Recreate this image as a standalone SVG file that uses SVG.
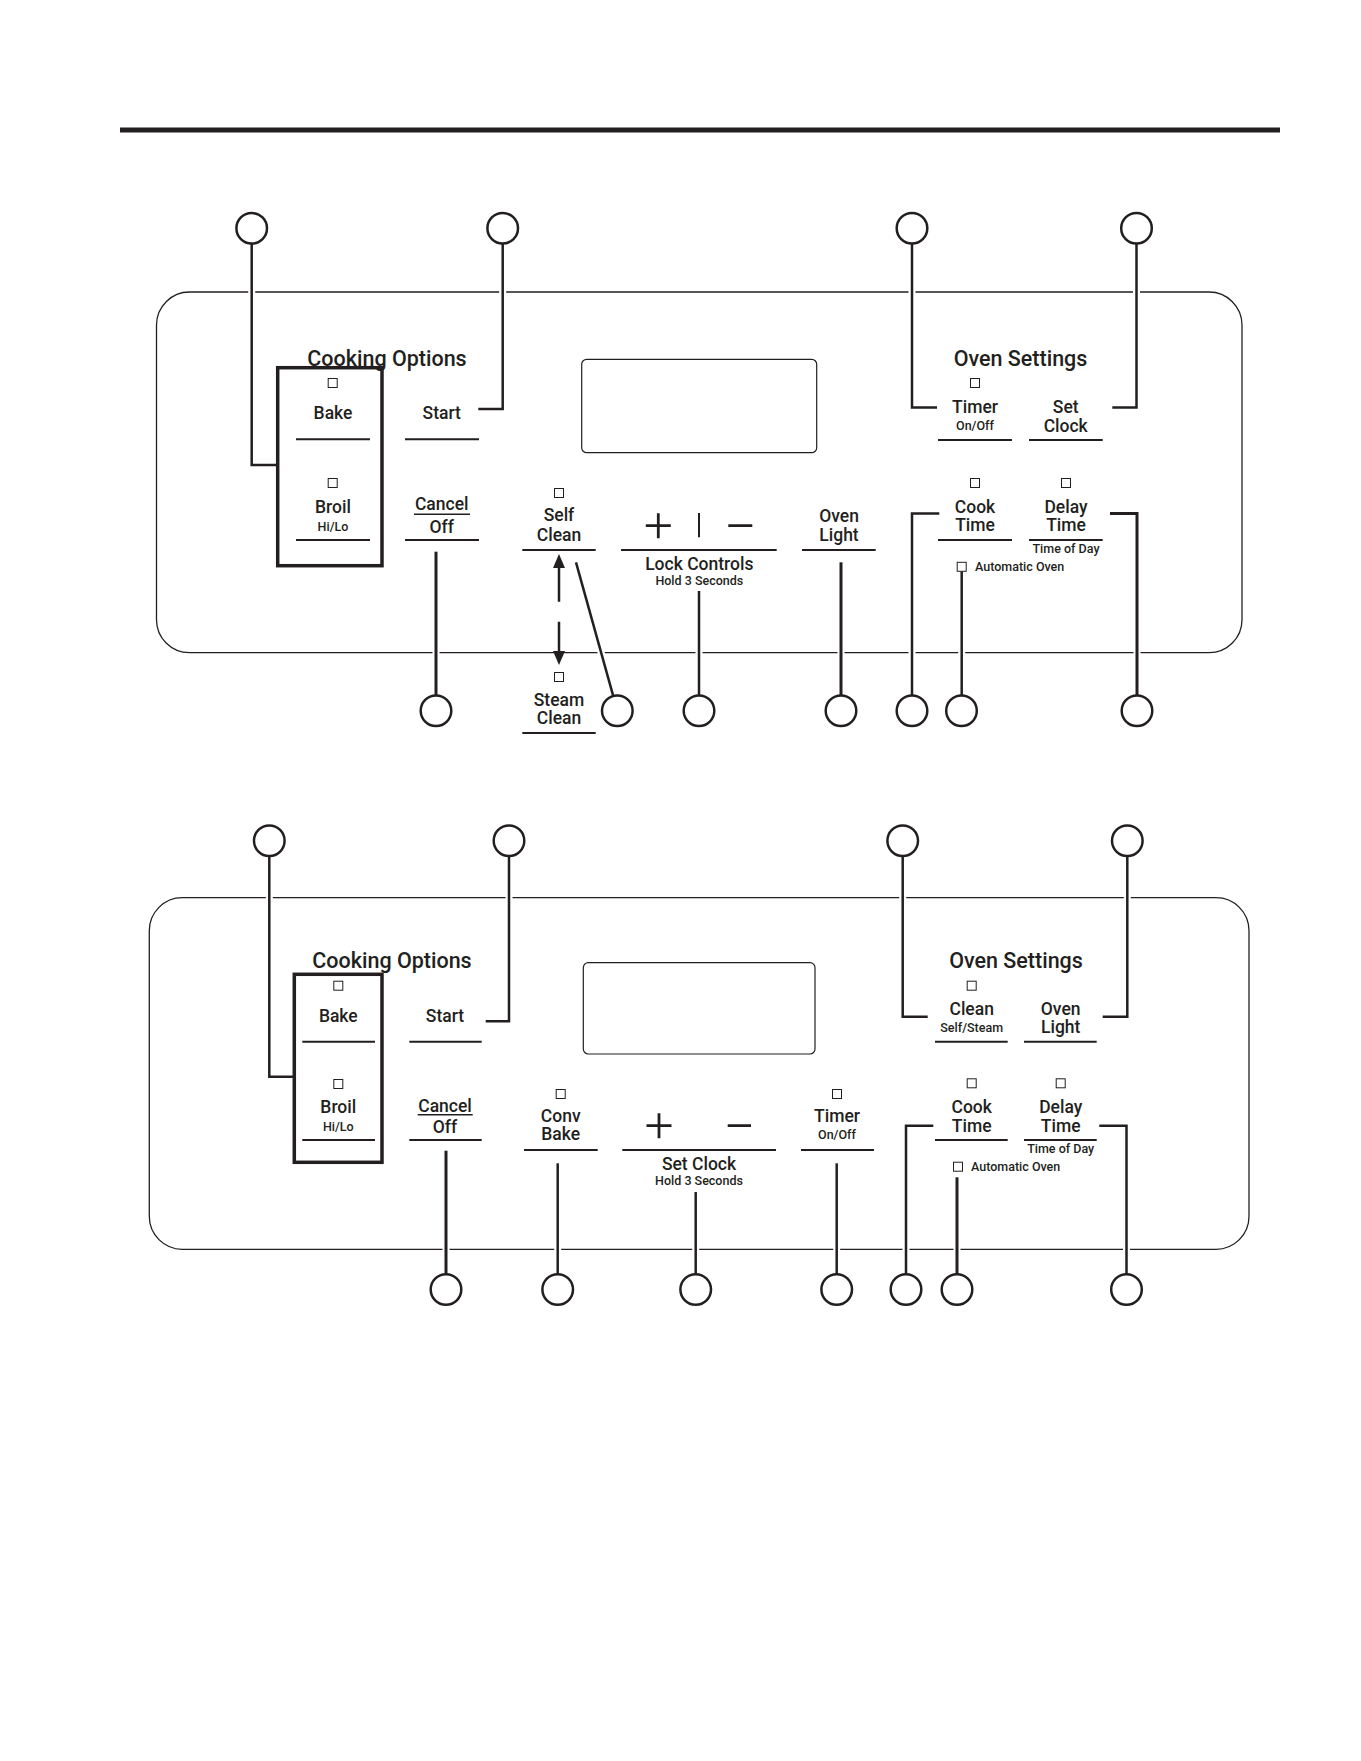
<svg xmlns="http://www.w3.org/2000/svg" width="1361" height="1761" viewBox="0 0 1361 1761">
<defs>
<style>
.t{font-family:Roboto,"Liberation Sans",sans-serif;font-weight:500;font-size:17.5px;text-anchor:middle;fill:#231f20}
.sm{font-size:12.5px}
.hd{font-size:21.5px}
.st{text-anchor:start}
.ul{stroke:#231f20;stroke-width:2;fill:none}
.ul1{stroke:#231f20;stroke-width:1.5;fill:none}
.led{fill:none;stroke:#231f20;stroke-width:1}
.panel{fill:none;stroke:#231f20;stroke-width:1.3}
.box{fill:none;stroke:#231f20;stroke-width:3.5}
.disp{fill:none;stroke:#231f20;stroke-width:1.2}
.halo{fill:none;stroke:#fff;stroke-width:7}
.conn{fill:none;stroke:#231f20;stroke-width:2.5}
.thick{stroke-width:3}
.co{fill:#fff;stroke:#231f20;stroke-width:2.5}
.sym{stroke:#231f20;stroke-width:2.8;fill:none}
.ah{fill:#231f20}
</style>
</defs>
<rect width="1361" height="1761" fill="#fff"/>
<line x1="120" y1="130" x2="1280" y2="130" stroke="#231f20" stroke-width="5"/>

<!-- ===== Panel 1 ===== -->
<g id="panel1">
<rect class="panel" x="156.5" y="292" width="1085.5" height="360.7" rx="33"/>
<rect class="disp" x="581.7" y="359.3" width="235" height="93.4" rx="5"/>
</g>

<g id="connectors1">
<path class="halo" d="M251.7 228 V465 H277.7"/>
<path class="conn" d="M251.7 228 V465 H277.7"/>
<path class="halo" d="M502.7 228 V409 H478.3"/>
<path class="conn" d="M502.7 228 V409 H478.3"/>
<path class="halo" d="M912 228 V407.6 H937"/>
<path class="conn" d="M912 228 V407.6 H937"/>
<path class="halo" d="M1136.5 228 V407.6 H1112.3"/>
<path class="conn" d="M1136.5 228 V407.6 H1112.3"/>
<path class="halo" d="M436 551.7 V710.7"/>
<path class="conn thick" d="M436 551.7 V710.7"/>
<path class="halo" d="M576 562.3 L617.3 710.7"/>
<path class="conn" d="M576 562.3 L617.3 710.7"/>
<path class="halo" d="M699 591 V710.7"/>
<path class="conn" d="M699 591 V710.7"/>
<path class="halo" d="M841 562.3 V710.7"/>
<path class="conn thick" d="M841 562.3 V710.7"/>
<path class="halo" d="M939.3 513.6 H912 V710.7"/>
<path class="conn" d="M939.3 513.6 H912 V710.7"/>
<path class="halo" d="M961.7 571.5 V710.7"/>
<path class="conn" d="M961.7 571.5 V710.7"/>
<path class="halo" d="M1110 513.6 H1137 V710.7"/>
<path class="conn thick" d="M1110 513.6 H1137 V710.7"/>
<path class="halo" d="M559 556 V601.7 M559 621.7 V663"/>
<path class="conn" d="M559 566 V601.7 M559 621.7 V653"/>
<polygon class="ah" points="553,568 559,554 565,568"/>
<polygon class="ah" points="553,651 559,665 565,651"/>
</g>

<g id="callouts1">
<circle class="co" cx="251.7" cy="228.3" r="15.3"/>
<circle class="co" cx="502.7" cy="228.3" r="15.3"/>
<circle class="co" cx="912" cy="228.3" r="15.3"/>
<circle class="co" cx="1136.5" cy="228.3" r="15.3"/>
<circle class="co" cx="436" cy="710.7" r="15.3"/>
<circle class="co" cx="617.3" cy="710.7" r="15.3"/>
<circle class="co" cx="699" cy="710.7" r="15.3"/>
<circle class="co" cx="841" cy="710.7" r="15.3"/>
<circle class="co" cx="912" cy="710.7" r="15.3"/>
<circle class="co" cx="961.5" cy="710.7" r="15.3"/>
<circle class="co" cx="1137" cy="710.7" r="15.3"/>
</g>

<g id="cooking-options-1">
<text class="t hd" x="387" y="366">Cooking Options</text>
<rect class="box" x="277.7" y="367.7" width="104.3" height="198"/>
</g>
<g id="bake1">
<rect class="led" x="328.2" y="378.5" width="9" height="9"/>
<text class="t" x="333" y="419">Bake</text>
<line class="ul" x1="296" y1="439.3" x2="370" y2="439.3"/>
</g>
<g id="start1">
<text class="t" x="441.7" y="419">Start</text>
<line class="ul" x1="405" y1="439.3" x2="479" y2="439.3"/>
</g>
<g id="broil1">
<rect class="led" x="328.2" y="478.5" width="9" height="9"/>
<text class="t" x="333" y="513.3">Broil</text>
<text class="t sm" x="333" y="530.7">Hi/Lo</text>
<line class="ul" x1="296" y1="540" x2="370" y2="540"/>
</g>
<g id="cancel1">
<text class="t" x="441.7" y="510">Cancel</text>
<line class="ul1" x1="414" y1="514.3" x2="470" y2="514.3"/>
<text class="t" x="441.7" y="532.7">Off</text>
<line class="ul" x1="405" y1="540" x2="479" y2="540"/>
</g>
<g id="selfclean1">
<rect class="led" x="554.5" y="488.5" width="9" height="9"/>
<text class="t" x="559" y="520.7">Self</text>
<text class="t" x="559" y="540.7">Clean</text>
<line class="ul" x1="522.3" y1="550" x2="595.7" y2="550"/>
</g>
<g id="steamclean1">
<rect class="led" x="554.5" y="672.5" width="9" height="9"/>
<text class="t" x="559" y="705.7">Steam</text>
<text class="t" x="559" y="724">Clean</text>
<line class="ul" x1="522.3" y1="733" x2="595.7" y2="733"/>
</g>
<g id="lock1">
<path class="sym" d="M645.8 525.7 H670.8 M658.3 513.2 V538.2 M728.3 525.7 H752.3"/>
<line stroke="#231f20" stroke-width="2" x1="699" y1="513" x2="699" y2="537.3"/>
<line class="ul" x1="621" y1="550" x2="776.7" y2="550"/>
<text class="t" x="699.3" y="569.5">Lock Controls</text>
<text class="t sm" x="699.3" y="584.5">Hold 3 Seconds</text>
</g>
<g id="ovenlight1">
<text class="t" x="839" y="521.7">Oven</text>
<text class="t" x="839" y="540.7">Light</text>
<line class="ul" x1="802" y1="550" x2="875.7" y2="550"/>
</g>
<g id="oven-settings-1">
<text class="t hd" x="1020.5" y="366">Oven Settings</text>
</g>
<g id="timer1">
<rect class="led" x="970.5" y="378.5" width="9" height="9"/>
<text class="t" x="975" y="413.2">Timer</text>
<text class="t sm" x="975" y="430.4">On/Off</text>
<line class="ul" x1="938" y1="440" x2="1012" y2="440"/>
</g>
<g id="setclock1">
<text class="t" x="1065.7" y="413">Set</text>
<text class="t" x="1065.7" y="432">Clock</text>
<line class="ul" x1="1029" y1="440" x2="1102.7" y2="440"/>
</g>
<g id="cooktime1">
<rect class="led" x="970.5" y="478.5" width="9" height="9"/>
<text class="t" x="975" y="513.2">Cook</text>
<text class="t" x="975" y="531.4">Time</text>
<line class="ul" x1="938" y1="540" x2="1012" y2="540"/>
</g>
<g id="delaytime1">
<rect class="led" x="1061.5" y="478.5" width="9" height="9"/>
<text class="t" x="1066" y="513.2">Delay</text>
<text class="t" x="1066" y="531.4">Time</text>
<line class="ul" x1="1029" y1="540" x2="1102.7" y2="540"/>
<text class="t sm" x="1066" y="552.9">Time of Day</text>
</g>
<g id="autooven1">
<rect class="led" x="957.2" y="562.3" width="9" height="9" stroke-width="1.5"/>
<text class="t sm st" x="975" y="571.4">Automatic Oven</text>
</g>

<!-- ===== Panel 2 ===== -->
<g id="panel2">
<rect class="panel" x="149.3" y="897.7" width="1099.7" height="351.6" rx="33"/>
<rect class="disp" x="583.3" y="962.7" width="231.7" height="91.3" rx="5"/>
</g>

<g id="connectors2">
<path class="halo" d="M269.3 840.7 V1076.7 H294.3"/>
<path class="conn" d="M269.3 840.7 V1076.7 H294.3"/>
<path class="halo" d="M509 840.7 V1021.3 H485.7"/>
<path class="conn" d="M509 840.7 V1021.3 H485.7"/>
<path class="halo" d="M902.7 840.7 V1016.7 H927.7"/>
<path class="conn" d="M902.7 840.7 V1016.7 H927.7"/>
<path class="halo" d="M1127.3 840.7 V1016.7 H1102.7"/>
<path class="conn" d="M1127.3 840.7 V1016.7 H1102.7"/>
<path class="halo" d="M446 1150.7 V1289.5"/>
<path class="conn thick" d="M446 1150.7 V1289.5"/>
<path class="halo" d="M557.7 1163.3 V1289.5"/>
<path class="conn" d="M557.7 1163.3 V1289.5"/>
<path class="halo" d="M695.7 1192 V1289.5"/>
<path class="conn" d="M695.7 1192 V1289.5"/>
<path class="halo" d="M836.7 1163.3 V1289.5"/>
<path class="conn" d="M836.7 1163.3 V1289.5"/>
<path class="halo" d="M933.3 1125.7 H906 V1289.5"/>
<path class="conn" d="M933.3 1125.7 H906 V1289.5"/>
<path class="halo" d="M957 1177.3 V1289.5"/>
<path class="conn thick" d="M957 1177.3 V1289.5"/>
<path class="halo" d="M1099.3 1125.7 H1126.5 V1289.5"/>
<path class="conn" d="M1099.3 1125.7 H1126.5 V1289.5"/>
</g>

<g id="callouts2">
<circle class="co" cx="269.3" cy="840.7" r="15.3"/>
<circle class="co" cx="509" cy="840.7" r="15.3"/>
<circle class="co" cx="902.7" cy="840.7" r="15.3"/>
<circle class="co" cx="1127.3" cy="840.7" r="15.3"/>
<circle class="co" cx="446" cy="1289.5" r="15.3"/>
<circle class="co" cx="557.7" cy="1289.5" r="15.3"/>
<circle class="co" cx="695.7" cy="1289.5" r="15.3"/>
<circle class="co" cx="836.7" cy="1289.5" r="15.3"/>
<circle class="co" cx="906" cy="1289.5" r="15.3"/>
<circle class="co" cx="957" cy="1289.5" r="15.3"/>
<circle class="co" cx="1126.5" cy="1289.5" r="15.3"/>
</g>

<g id="cooking-options-2">
<text class="t hd" x="392" y="968.3">Cooking Options</text>
<rect class="box" x="294.3" y="974.3" width="87.7" height="188"/>
</g>
<g id="bake2">
<rect class="led" x="333.8" y="981.2" width="9" height="9"/>
<text class="t" x="338.3" y="1021.7">Bake</text>
<line class="ul" x1="302.3" y1="1041.7" x2="375" y2="1041.7"/>
</g>
<g id="start2">
<text class="t" x="445" y="1021.7">Start</text>
<line class="ul" x1="409.3" y1="1041.7" x2="481.7" y2="1041.7"/>
</g>
<g id="broil2">
<rect class="led" x="333.8" y="1079.5" width="9" height="9"/>
<text class="t" x="338.3" y="1113.3">Broil</text>
<text class="t sm" x="338.3" y="1130.7">Hi/Lo</text>
<line class="ul" x1="302.3" y1="1140" x2="375" y2="1140"/>
</g>
<g id="cancel2">
<text class="t" x="445" y="1111.7">Cancel</text>
<line class="ul1" x1="417.7" y1="1114.7" x2="472.7" y2="1114.7"/>
<text class="t" x="445" y="1132.7">Off</text>
<line class="ul" x1="409.3" y1="1140" x2="481.7" y2="1140"/>
</g>
<g id="convbake2">
<rect class="led" x="556.2" y="1089.5" width="9" height="9"/>
<text class="t" x="560.7" y="1121.7">Conv</text>
<text class="t" x="560.7" y="1140">Bake</text>
<line class="ul" x1="524" y1="1150" x2="597.7" y2="1150"/>
</g>
<g id="setclock2">
<path class="sym" d="M646.5 1125.7 H671.5 M659 1113.2 V1138.2 M727.7 1125.7 H751"/>
<line class="ul" x1="622.3" y1="1150" x2="776" y2="1150"/>
<text class="t" x="699" y="1169.5">Set Clock</text>
<text class="t sm" x="699" y="1184.5">Hold 3 Seconds</text>
</g>
<g id="timer2">
<rect class="led" x="832.5" y="1089.5" width="9" height="9"/>
<text class="t" x="837" y="1121.7">Timer</text>
<text class="t sm" x="837" y="1139">On/Off</text>
<line class="ul" x1="801" y1="1150" x2="874" y2="1150"/>
</g>
<g id="oven-settings-2">
<text class="t hd" x="1016" y="968.3">Oven Settings</text>
</g>
<g id="clean2">
<rect class="led" x="967.2" y="981.2" width="9" height="9"/>
<text class="t" x="971.7" y="1015">Clean</text>
<text class="t sm" x="971.7" y="1032.3">Self/Steam</text>
<line class="ul" x1="935" y1="1041.7" x2="1007.7" y2="1041.7"/>
</g>
<g id="ovenlight2">
<text class="t" x="1060.7" y="1015">Oven</text>
<text class="t" x="1060.7" y="1032.7">Light</text>
<line class="ul" x1="1024" y1="1041.7" x2="1096.7" y2="1041.7"/>
</g>
<g id="cooktime2">
<rect class="led" x="967.2" y="1078.8" width="9" height="9"/>
<text class="t" x="971.7" y="1112.7">Cook</text>
<text class="t" x="971.7" y="1131.7">Time</text>
<line class="ul" x1="935" y1="1140" x2="1007.7" y2="1140"/>
</g>
<g id="delaytime2">
<rect class="led" x="1056.2" y="1078.8" width="9" height="9"/>
<text class="t" x="1060.7" y="1112.7">Delay</text>
<text class="t" x="1060.7" y="1131.7">Time</text>
<line class="ul" x1="1024" y1="1140" x2="1096.7" y2="1140"/>
<text class="t sm" x="1060.7" y="1152.7">Time of Day</text>
</g>
<g id="autooven2">
<rect class="led" x="953.5" y="1162.2" width="9" height="9" stroke-width="1.5"/>
<text class="t sm st" x="971" y="1170.7">Automatic Oven</text>
</g>
</svg>
